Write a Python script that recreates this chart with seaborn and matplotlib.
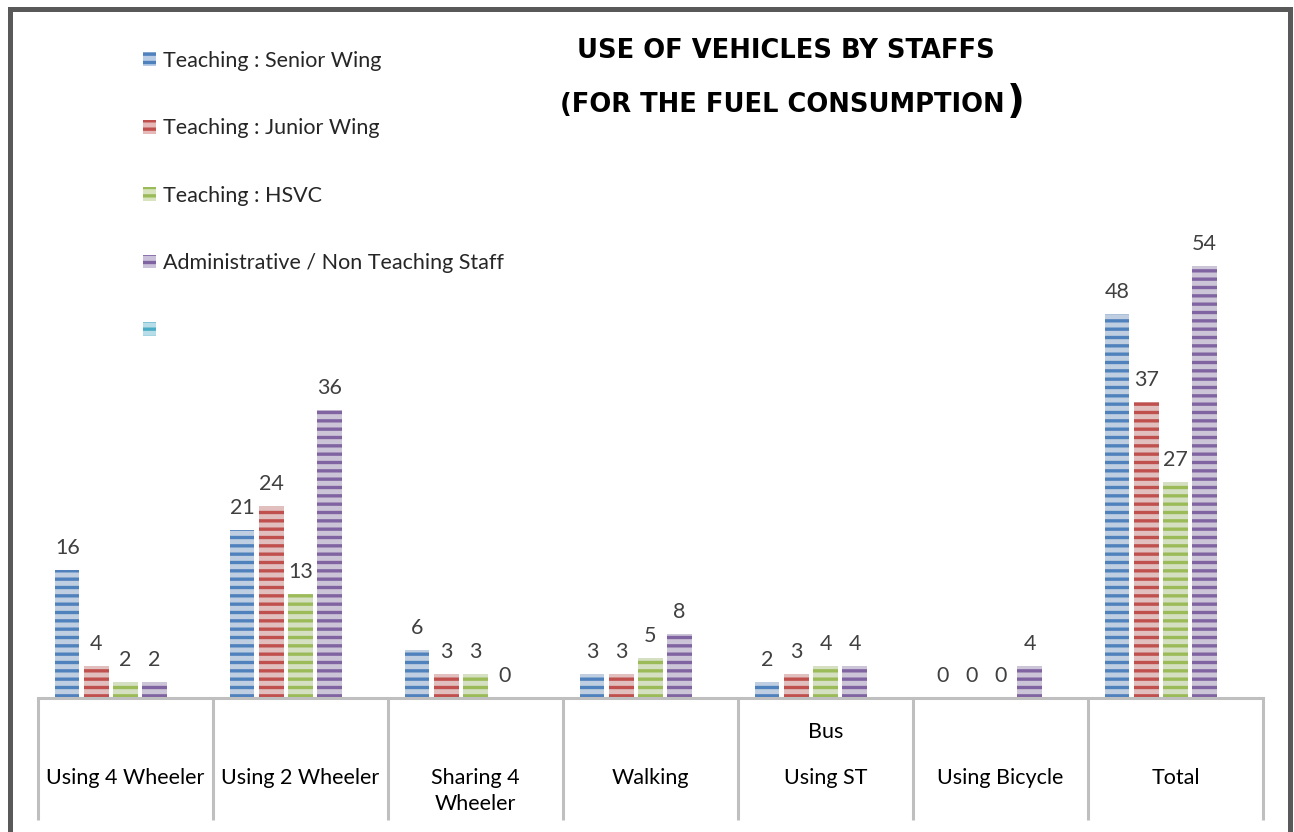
import matplotlib

matplotlib.use("Agg")
import matplotlib.pyplot as plt
import matplotlib.transforms as mtransforms
import numpy as np
import pandas as pd
import seaborn as sns
from matplotlib.patches import Patch, Rectangle

W, H = 1294, 832

categories = ["Using 4 Wheeler", "Using 2 Wheeler", "Sharing 4\nWheeler", "Walking",
              "Using ST", "Using Bicycle", "Total"]
category_top_lines = ["", "", "", "", "Bus", "", ""]
series = ["Teaching : Senior Wing", "Teaching : Junior Wing", "Teaching : HSVC",
          "Administrative / Non Teaching Staff", " "]
senior_wing = [16, 21, 6, 3, 2, 0, 48]
junior_wing = [4, 24, 3, 3, 3, 0, 37]
hsvc = [2, 13, 3, 5, 4, 0, 27]
admin_staff = [2, 36, 0, 8, 4, 4, 54]

dark_colors = ["#4f81bd", "#c0504d", "#9bbb59", "#8064a2", "#4bacc6"]
light_colors = ["#b9cde6", "#e6b9b8", "#d7e4bd", "#ccc1da", "#b7dee8"]


def fx(x):
    return x / W


def fy(y):
    return 1 - y / H


rows = []
for name, values in zip(series[:4], [senior_wing, junior_wing, hsvc, admin_staff]):
    for cat, v in zip(categories, values):
        rows.append({"category": cat, "series": name, "value": v})
df = pd.DataFrame(rows)

sns.set_theme(style="white")
plt.rcParams["font.family"] = ["Lato", "DejaVu Sans"]
plt.rcParams["hatch.linewidth"] = 2.4

fig = plt.figure(figsize=(W / 100, H / 100), dpi=100)
fig.patch.set_facecolor("white")
ax = fig.add_axes([fx(38), 1 - 698 / H, fx(1263) - fx(38), (698 - 20) / H])

sns.barplot(data=df, x="category", y="value", hue="series", order=categories,
            hue_order=series, palette=dict(zip(series, light_colors)),
            width=0.83, gap=0.17, legend=False, errorbar=None, ax=ax)

for i, cont in enumerate(ax.containers):
    for bar in cont:
        bar.set_hatch("--")
        bar.set_edgecolor(dark_colors[i])
        bar.set_linewidth(0)
    ax.bar_label(cont, fmt="%g", padding=9, fontsize=15.5, color="#404040")

ax.set_xlim(-0.5, len(categories) - 0.5)
ax.set_ylim(0, 678 / 8)
ax.set_xlabel("")
ax.set_ylabel("")
ax.set_yticks([])
ax.set_xticks(range(len(categories)))
ax.set_xticklabels([])
ax.tick_params(axis="x", which="major", length=0)
ax.set_xticks(np.arange(-0.5, len(categories)), minor=True)
ax.tick_params(axis="x", which="minor", bottom=True, direction="out", length=88,
               width=2.2, color="#bfbfbf")
for side in ["left", "top", "right"]:
    ax.spines[side].set_visible(False)
ax.spines["bottom"].set_color("#bfbfbf")
ax.spines["bottom"].set_linewidth(2.2)

label_tf = mtransforms.blended_transform_factory(ax.transData, fig.transFigure)
for i, (cat, top) in enumerate(zip(categories, category_top_lines)):
    ax.text(i, fy(768), cat, transform=label_tf, ha="center", va="top",
            fontsize=15.5, color="#000000", linespacing=1.4)
    if top:
        ax.text(i, fy(732), top, transform=label_tf, ha="center", va="center",
                fontsize=15.5, color="#000000")

handles = [Patch(facecolor=l, edgecolor=d, hatch="--", linewidth=0)
           for l, d in zip(light_colors, dark_colors)]
fig.legend(handles, series, loc="upper left", bbox_to_anchor=(fx(143), fy(51)),
           frameon=False, fontsize=15.5, borderpad=0, borderaxespad=0,
           labelspacing=2.2, handlelength=0.62, handleheight=0.62, handletextpad=0.3)

fig.text(fx(786), fy(51), "USE OF VEHICLES BY STAFFS", ha="center", va="center",
         fontsize=18.5, fontweight="bold", family="DejaVu Sans", color="black")
sub = fig.text(fx(782), fy(105), "(FOR THE FUEL CONSUMPTION", ha="center", va="center",
               fontsize=18.5, fontweight="bold", family="DejaVu Sans", color="black")
fig.canvas.draw()
sub_right = sub.get_window_extent().x1
fig.text(sub_right / W + fx(3), fy(102), ")", ha="left", va="center",
         fontsize=28, fontweight="bold", family="DejaVu Sans", color="black")

fig.patches.append(Rectangle((fx(9.5), -0.1), fx(1290) - fx(9.5), fy(8.5) + 0.1,
                             transform=fig.transFigure, fill=False,
                             edgecolor="#595959", linewidth=3.6))

fig.savefig("out.png", dpi=100)
